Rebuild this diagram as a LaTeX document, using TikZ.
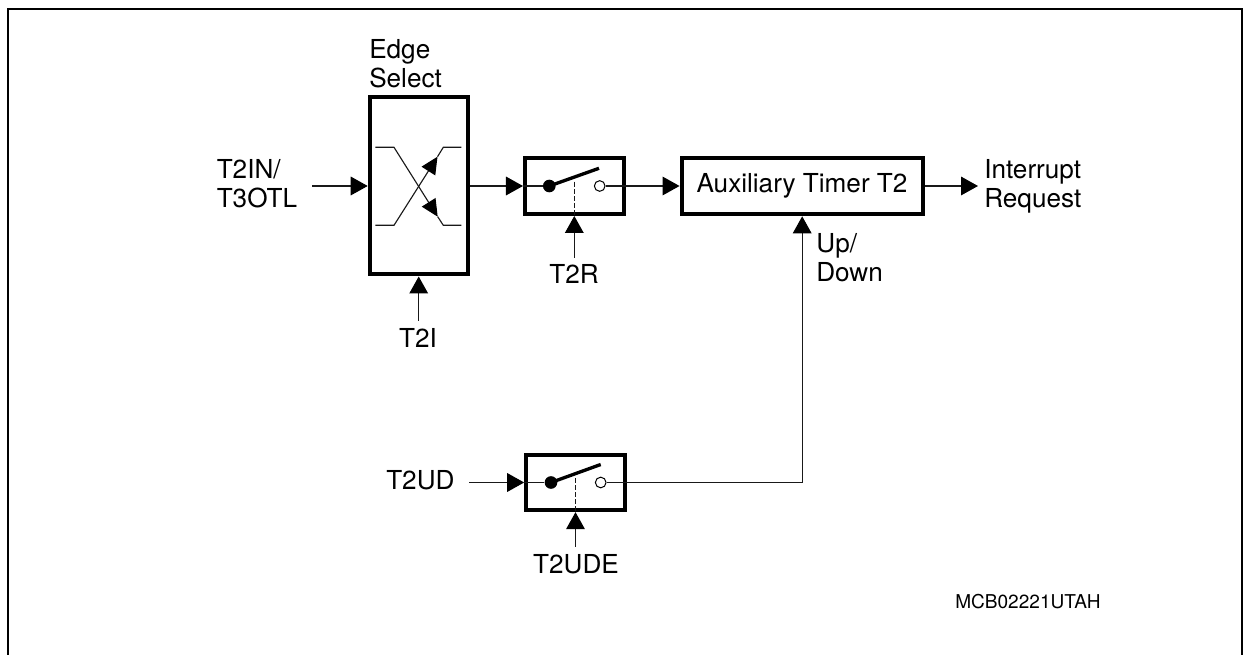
\documentclass[tikz,border=0pt]{standalone}
\usepackage{fontspec}
\setmainfont{TeX Gyre Heros}
\usetikzlibrary{arrows.meta}
\tikzset{
  wire/.style={line width=0.85pt,black!90},
  sig/.style={wire,-{Triangle[length=12.75pt,width=14pt,color=black,fill=black]}},
  smallsig/.style={wire,-{Triangle[length=12.75pt,width=12pt,color=black,fill=black]}},
  thickbox/.style={draw,line width=3pt,inner sep=0pt,rectangle},
  lbl/.style={inner sep=0pt,font=\fontsize{19.6pt}{21.75pt}\selectfont,align=left},
  code/.style={inner sep=0pt,font=\fontsize{14.3pt}{17pt}\selectfont},
  closedc/.style={circle,fill=black,draw=none,inner sep=0pt,minimum size=9.5pt},
  openc/.style={circle,draw,fill=white,line width=0.75pt,inner sep=0pt,minimum size=8pt},
  blade/.style={line width=2.5pt},
  ctrl/.style={line width=0.85pt,black!90,dash pattern=on 3.8pt off 1.5pt}
}
\begin{document}
\begin{tikzpicture}[x=0.75pt,y=-0.75pt]
\useasboundingbox (0,0) rectangle (1243,655);
% frame
\coordinate (fa) at (8,655);
\coordinate (fb) at (8,9);
\coordinate (fc) at (1241.5,9);
\coordinate (fd) at (1241.5,655);
\draw[line width=1.5pt] (fa) -- (fb) -- (fc) -- (fd);
% boxes
\node[thickbox,minimum width=73.5pt,minimum height=132.75pt] (edge) at (418.7,186) {};
\node[thickbox,minimum width=74pt,minimum height=42pt] (sa) at (574.3,186) {};
\node[thickbox,minimum width=181pt,minimum height=42.5pt] (main) at (802.2,186) {};
\node[thickbox,minimum width=74pt,minimum height=41.5pt] (sb) at (575.5,482.5) {};
\node[lbl,anchor=center] at (802,186) {Auxiliary Timer T2};
% edge select symbol
\coordinate (e1) at (375.3,147.3);
\coordinate (e2) at (394,147.3);
\coordinate (e3) at (437.7,216.7);
\coordinate (e4) at (443.3,225.3);
\coordinate (e5) at (461.3,225.3);
\coordinate (g1) at (375.3,225.3);
\coordinate (g2) at (394,225.3);
\coordinate (g3) at (437.5,156.7);
\coordinate (g4) at (443.3,147.3);
\coordinate (g5) at (461.3,147.3);
\draw[smallsig] (e1) -- (e2) -- (e3);
\draw[wire] (e3) -- (e4) -- (e5);
\draw[smallsig] (g1) -- (g2) -- (g3);
\draw[wire] (g3) -- (g4) -- (g5);
% switch A
\node[closedc] (sad) at (549.3,186) {};
\node[openc] (sao) at (599.7,186) {};
\coordinate (sat) at (599,168.3);
\coordinate (sam) at (574.3,181.7);
\draw[blade] (sad.center) -- (sat);
\draw[wire] (sa.west) -- (sad);
\draw[ctrl] (sam) -- (sa.south);
% switch B
\node[closedc] (sbd) at (551,482.5) {};
\node[openc] (sbo) at (600.7,482.5) {};
\coordinate (sbt) at (600.7,464.5);
\coordinate (sbm) at (575.5,478);
\draw[blade] (sbd.center) -- (sbt);
\draw[wire] (sb.west) -- (sbd);
\draw[ctrl] (sbm) -- (sb.south);
% connectors
\coordinate (ina) at (312,186);
\draw[sig] (ina) -- (edge.west);
\draw[sig] (edge.east) -- (sa.west);
\draw[sig] (sao) -- (main.west);
\coordinate (outa) at (978,186);
\draw[sig] (main.east) -- (outa);
\coordinate (inb) at (469,482.5);
\draw[sig] (inb) -- (sb.west);
\coordinate (corner) at (802.2,482.5);
\draw[sig] (sbo) -- (corner) -- (main.south);
\coordinate (cti) at (418.7,321);
\draw[sig] (cti) -- (edge.south);
\coordinate (ctr) at (574.3,257.7);
\draw[sig] (ctr) -- (sa.south);
\coordinate (ctu) at (575.5,546.7);
\draw[sig] (ctu) -- (sb.south);
% labels
\node[lbl,anchor=base west] at (369,87.3) {Edge\\Select};
\node[lbl,anchor=base west] at (216.5,208) {T2IN/\\T3OTL};
\node[lbl,anchor=base] at (574,284) {T2R};
\node[lbl,anchor=base] at (418,347.7) {T2I};
\node[lbl,anchor=base west] at (386,490) {T2UD};
\node[lbl,anchor=base] at (576,573.3) {T2UDE};
\node[lbl,anchor=base west] at (984,207.7) {Interrupt\\Request};
\node[lbl,anchor=base west] at (816,281.7) {Up/\\Down};
\node[code,anchor=base west] at (955,609) {MCB02221UTAH};
\end{tikzpicture}
\end{document}
